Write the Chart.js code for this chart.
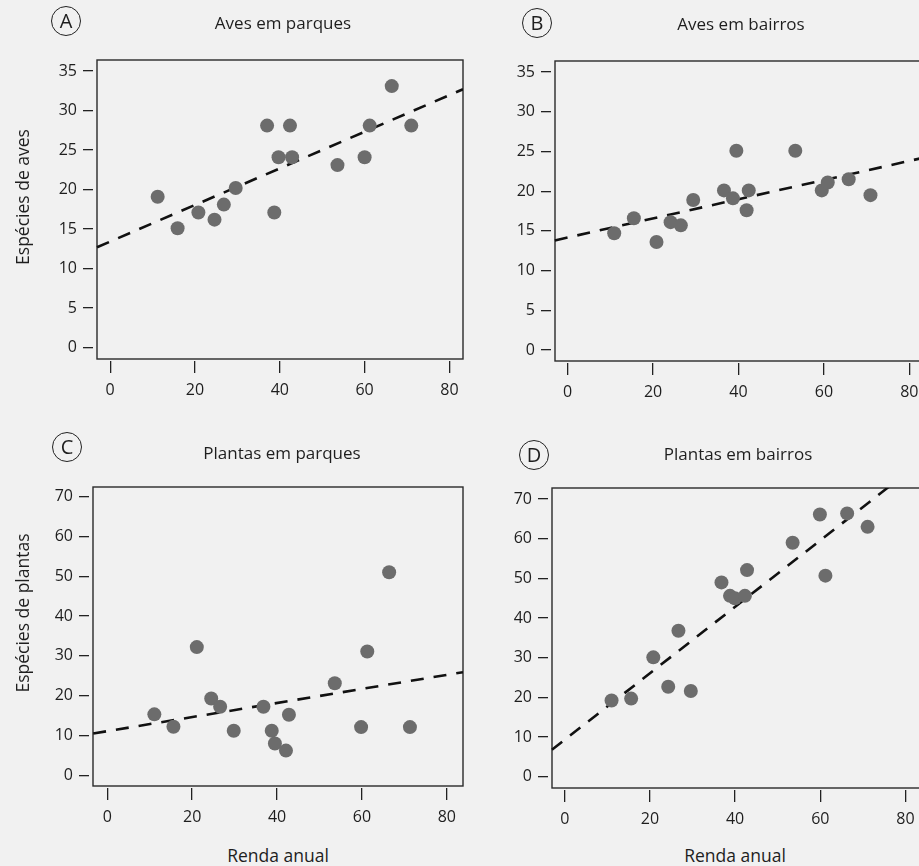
<!DOCTYPE html>
<html>
<head>
<meta charset="utf-8">
<script src="https://cdn.jsdelivr.net/npm/chart.js@4.4.0/dist/chart.umd.min.js"></script>
<style>
  body { margin: 0; background: #f1f1f1; width: 919px; height: 866px; overflow: hidden; position: relative;
         font-family: "Open Sans", sans-serif; color: #1e1e1e; }
  .panel { position: absolute; }
  .lbl { position: absolute; white-space: nowrap; transform: translate(-50%, -50%); }
  .ttl { font-size: 17px; }
  .circ { width: 28px; height: 28px; border: 1.5px solid #222; border-radius: 50%; font-size: 20px;
          line-height: 28px; text-align: center; }
  .ylab { transform: translate(-50%, -50%) rotate(-90deg); font-size: 17.5px; }
  .xlab { font-size: 17.5px; }
</style>
</head>
<body>
<canvas id="painelA" class="panel" width="470" height="400" style="left:0px;top:0px"></canvas>
<canvas id="painelB" class="panel" width="470" height="400" style="left:460px;top:0px"></canvas>
<canvas id="painelC" class="panel" width="470" height="400" style="left:0px;top:430px"></canvas>
<canvas id="painelD" class="panel" width="470" height="400" style="left:460px;top:430px"></canvas>

<div class="lbl circ" style="left:66px;top:21px">A</div>
<div class="lbl ttl" style="left:283px;top:22px">Aves em parques</div>
<div class="lbl circ" style="left:537px;top:23px">B</div>
<div class="lbl ttl" style="left:741px;top:23px">Aves em bairros</div>
<div class="lbl circ" style="left:67px;top:447px">C</div>
<div class="lbl ttl" style="left:282px;top:452px">Plantas em parques</div>
<div class="lbl circ" style="left:534px;top:455px">D</div>
<div class="lbl ttl" style="left:738px;top:453px">Plantas em bairros</div>

<div class="lbl ylab" style="left:22px;top:197px">Espécies de aves</div>
<div class="lbl ylab" style="left:22px;top:613px">Espécies de plantas</div>
<div class="lbl xlab" style="left:278px;top:855px">Renda anual</div>
<div class="lbl xlab" style="left:735px;top:855px">Renda anual</div>

<script>
const xTicks = [0, 20, 40, 60, 80];
const yTicksAves = [0, 5, 10, 15, 20, 25, 30, 35];
const yTicksPlantas = [0, 10, 20, 30, 40, 50, 60, 70];

// A - aves em parques
const rendaA = [11.2, 15.9, 20.8, 24.6, 26.8, 29.6, 37.0, 38.7, 39.7, 42.4, 42.9, 53.6, 60.0, 61.2, 66.4, 71.0];
const avesParques = [19.1, 15.1, 17.1, 16.2, 18.1, 20.2, 28.1, 17.1, 24.1, 28.1, 24.1, 23.1, 24.1, 28.1, 33.1, 28.1];
const linhaAvesParques = [[-3.1, 12.7], [83.2, 32.7]];

// B - aves em bairros
const rendaB = [10.9, 15.5, 20.8, 24.1, 26.5, 29.4, 36.6, 38.7, 39.5, 42.4, 41.9, 53.3, 59.5, 60.9, 65.8, 70.9];
const avesBairros = [14.7, 16.6, 13.6, 16.1, 15.7, 18.9, 20.1, 19.1, 25.1, 20.1, 17.6, 25.1, 20.1, 21.1, 21.5, 19.5];
const linhaAvesBairros = [[-3.0, 13.8], [83.2, 24.2]];

// C - plantas em parques
const rendaC = [11.1, 15.6, 21.1, 24.5, 26.6, 29.8, 36.8, 38.75, 39.5, 42.1, 42.8, 53.6, 59.8, 61.25, 66.4, 71.3];
const plantasParques = [15.3, 12.2, 32.2, 19.3, 17.2, 11.2, 17.2, 11.2, 8.0, 6.2, 15.2, 23.1, 12.1, 31.1, 51.0, 12.1];
const linhaPlantasParques = [[-3.3, 10.5], [83.8, 25.9]];

// D - plantas em bairros
const rendaD = [11.0, 15.6, 20.8, 24.3, 26.7, 29.6, 36.8, 38.8, 39.95, 42.3, 42.8, 53.5, 59.9, 61.2, 66.3, 71.1];
const plantasBairros = [19.2, 19.7, 30.1, 22.7, 36.8, 21.6, 49.0, 45.6, 45.0, 45.6, 52.1, 59.0, 66.1, 50.7, 66.4, 63.0];
const linhaPlantasBairros = [[-3.0, 6.8], [78.0, 74.7]];

const fonte = { family: "Open Sans", size: 16 };

const caixa = {
  id: "caixa",
  beforeDatasetsDraw(chart) {
    const a = chart.chartArea, c = chart.ctx;
    c.save();
    c.strokeStyle = "#2a2a2a";
    c.lineWidth = 1.4;
    c.strokeRect(a.left + 4, a.top, a.right - a.left - 4, a.bottom - 2 - a.top);
    c.restore();
  }
};

function painel(id, renda, especies, linha, yTicks, geo) {
  new Chart(document.getElementById(id), {
    type: "scatter",
    data: {
      datasets: [
        {
          data: renda.map((x, i) => ({ x: x, y: especies[i] })),
          pointRadius: 7,
          pointHoverRadius: 7,
          backgroundColor: "#6c6c6c",
          borderWidth: 0
        },
        {
          type: "line",
          data: linha.map(p => ({ x: p[0], y: p[1] })),
          borderColor: "#111",
          borderWidth: 2.6,
          borderDash: [13, 10],
          pointRadius: 0,
          fill: false
        }
      ]
    },
    options: {
      responsive: false,
      animation: false,
      layout: { padding: { top: geo.top, right: geo.right, left: 0, bottom: 0 } },
      plugins: { legend: { display: false }, tooltip: { enabled: false } },
      scales: {
        x: {
          type: "linear",
          min: geo.xmin,
          max: geo.xmax,
          afterFit: s => { s.height = geo.xh; },
          afterBuildTicks: s => { s.ticks = xTicks.map(v => ({ value: v })); },
          grid: { drawOnChartArea: false, tickLength: 12, color: "#222", lineWidth: 1.3 },
          border: { display: false },
          ticks: { padding: 8, color: "#1e1e1e", font: fonte, maxRotation: 0 }
        },
        y: {
          type: "linear",
          min: geo.ymin,
          max: geo.ymax,
          afterFit: s => { s.width = geo.yw; },
          afterBuildTicks: s => { s.ticks = yTicks.map(v => ({ value: v })); },
          grid: { drawOnChartArea: false, tickLength: 10, color: "#222", lineWidth: 1.3 },
          border: { display: false },
          ticks: { padding: 6, color: "#1e1e1e", font: fonte }
        }
      }
    },
    plugins: [caixa]
  });
}

painel("painelA", rendaA, avesParques, linhaAvesParques, yTicksAves,
  { top: 60, right: 4, yw: 93, xh: 39, xmin: -4.05, xmax: 83.2, ymin: -1.69, ymax: 36.4 });
painel("painelB", rendaB, avesBairros, linhaAvesBairros, yTicksAves,
  { top: 61, right: 6, yw: 91, xh: 37, xmin: -3.9, xmax: 83.2, ymin: -1.64, ymax: 36.4 });
painel("painelC", rendaC, plantasParques, linhaPlantasParques, yTicksPlantas,
  { top: 57, right: 5, yw: 89, xh: 42, xmin: -4.29, xmax: 83.8, ymin: -3.19, ymax: 72.4 });
painel("painelD", rendaD, plantasBairros, linhaPlantasBairros, yTicksPlantas,
  { top: 58, right: 10, yw: 88, xh: 40, xmin: -3.92, xmax: 83.4, ymin: -3.35, ymax: 72.8 });
</script>
</body>
</html>
